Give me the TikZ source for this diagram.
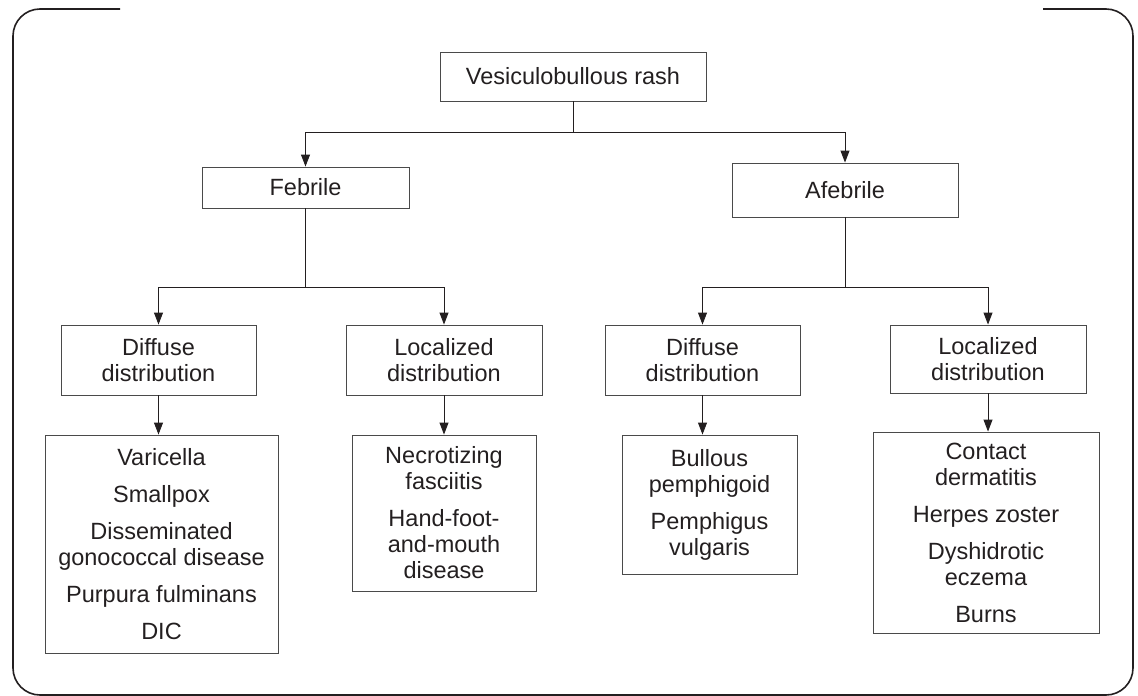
\documentclass[tikz,border=0pt]{standalone}
\usepackage{fontspec}
\setmainfont{Liberation Sans}
\usetikzlibrary{arrows.meta}
\definecolor{ink}{HTML}{231F20}
\definecolor{boxline}{HTML}{4A4A4A}
\begin{document}
\begin{tikzpicture}[x=1pt,y=-1pt,
  box/.style={draw=boxline, line width=0.9pt, text=ink, align=center, inner sep=0pt,
    font=\fontsize{23.5}{26}\selectfont},
  conn/.style={draw=ink, line width=0.9pt},
  arr/.style={conn, -{Triangle[length=12pt,width=9pt]}},
]
\useasboundingbox (0,0) rectangle (1138,696);
\draw[ink, line width=1.6pt, rounded corners=27pt]
  (120,9) -- (13,9) -- (13,695) -- (1133,695) -- (1133,9) -- (1043,9);

\coordinate (j0) at (0,132);
\coordinate (j1) at (0,287);

\node[box, minimum width=266pt, minimum height=49pt] (root) at (573,76.5) {Vesiculobullous rash};
\node[box, minimum width=207pt, minimum height=41pt] (feb) at (305.5,187.5) {Febrile};
\node[box, minimum width=226pt, minimum height=54pt] (afeb) at (845,190) {Afebrile};

\node[box, minimum width=195pt, minimum height=70pt] (dfF) at (158.5,360) {Diffuse\\distribution};
\node[box, minimum width=196pt, minimum height=70pt] (lcF) at (444,360) {Localized\\distribution};
\node[box, minimum width=195pt, minimum height=70pt] (dfA) at (702.5,360) {Diffuse\\distribution};
\node[box, minimum width=196pt, minimum height=68pt] (lcA) at (988,359) {Localized\\distribution};

\node[box, minimum width=233pt, minimum height=218pt] (b1) at (161.5,544)
  {Varicella\\[11pt]Smallpox\\[11pt]Disseminated\\gonococcal disease\\[11pt]Purpura fulminans\\[11pt]DIC};
\node[box, minimum width=184pt, minimum height=156pt] (b2) at (444,513)
  {Necrotizing\\fasciitis\\[11pt]Hand-foot-\\and-mouth\\disease};
\node[box, minimum width=175pt, minimum height=139pt] (b3) at (709.5,504.5)
  {Bullous\\pemphigoid\\[11pt]Pemphigus\\vulgaris};
\node[box, minimum width=226pt, minimum height=201pt] (b4) at (986,532.5)
  {Contact\\dermatitis\\[11pt]Herpes zoster\\[11pt]Dyshidrotic\\eczema\\[11pt]Burns};

\draw[conn] (root.south) -- (root.south |- j0);
\draw[arr] (root.south |- j0) -| (feb.north);
\draw[arr] (root.south |- j0) -| (afeb.north);

\draw[conn] (feb.south) -- (feb.south |- j1);
\draw[arr] (feb.south |- j1) -| (dfF.north);
\draw[arr] (feb.south |- j1) -| (lcF.north);

\draw[conn] (afeb.south) -- (afeb.south |- j1);
\draw[arr] (afeb.south |- j1) -| (dfA.north);
\draw[arr] (afeb.south |- j1) -| (lcA.north);

\draw[arr] (dfF.south) -- (dfF.south |- b1.north);
\draw[arr] (lcF.south) -- (lcF.south |- b2.north);
\draw[arr] (dfA.south) -- (dfA.south |- b3.north);
\draw[arr] (lcA.south) -- (lcA.south |- b4.north);
\end{tikzpicture}
\end{document}
